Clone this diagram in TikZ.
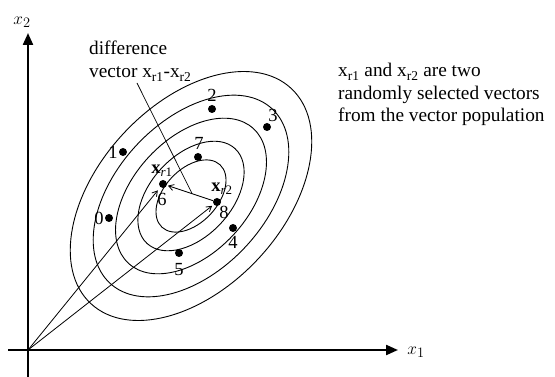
\documentclass[tikz,border=0pt]{standalone}
\usepackage{fontspec}
\setmainfont{Liberation Serif}
\usetikzlibrary{arrows.meta,calc}
\begin{document}
\begin{tikzpicture}[x=1pt,y=-1pt,
  axis/.style={line width=2.2pt,-{Triangle[length=12pt,width=10pt]}},
  contour/.style={line width=0.9pt},
  vec/.style={line width=0.8pt,-{Straight Barb[length=5pt,width=6pt]}},
  dot/.style={circle,fill=black,inner sep=0pt,minimum size=8pt},
  num/.style={inner sep=0pt,font=\fontsize{18.5}{20}\selectfont},
  txt/.style={inner sep=0pt,anchor=base west,font=\fontsize{19.3}{23}\selectfont},
  axlabel/.style={inner sep=0pt,font=\fontsize{19}{20}\selectfont},
  lead/.style={line width=0.7pt}]
\useasboundingbox[fill=white] (0,0) rectangle (555,377);

% contour ellipses
\coordinate (c) at (191,196);
\foreach \k in {0.29,0.44,0.625,0.81,1}
  \draw[contour, rotate around={47:(c)}] (c) ellipse [x radius={147pt*\k}, y radius={92pt*\k}];

% axes
\coordinate (o) at (28,350);
\coordinate (ybot) at (28,377);
\coordinate (ytop) at (28,33);
\coordinate (xleft) at (8,350);
\coordinate (xright) at (398,350);
\draw[axis] (ybot) -- (ytop);
\draw[axis] (xleft) -- (xright);
\node[axlabel] (lx2) at (22,22) {$x_2$};
\node[axlabel] (lx1) at (416,352) {$x_1$};

% population points
\node[dot] (p0) at (109,218) {};
\node[dot] (p1) at (123,152) {};
\node[dot] (p2) at (212,109) {};
\node[dot] (p3) at (267,127) {};
\node[dot] (p4) at (233,228) {};
\node[dot] (p5) at (179,253) {};
\node[dot] (xr1) at (163,184) {};
\node[dot] (p7) at (198,157) {};
\node[dot] (xr2) at (217,202) {};

\node[num] (l0) at (99,218) {0};
\node[num] (l1) at (113,152) {1};
\node[num] (l2) at (212,95) {2};
\node[num] (l3) at (273,115) {3};
\node[num] (l4) at (233,242) {4};
\node[num] (l5) at (179,270) {5};
\node[num] (l6) at (162,199) {6};
\node[num] (l7) at (199,143) {7};
\node[num] (l8) at (224,212) {8};
\node[num] (lxr1) at (162,171) {\textbf{x}\textsubscript{\textit{r}1}};
\node[num] (lxr2) at (222,189) {\textbf{x}\textsubscript{\textit{r}2}};

% vectors
\draw[vec, shorten >=4pt] (o) -- (xr1);
\draw[vec, shorten >=2pt] (o) -- (xr2);
\draw[vec, shorten >=1pt] (xr2) -- (xr1);

% annotation texts
\node[txt] (d1) at (89,55) {difference};
\node[txt] (d2) at (89,78) {vector x\textsubscript{r1}-x\textsubscript{r2}};
\coordinate (lt) at (137,83);
\coordinate (lb) at ($(xr2.center)!0.46!(xr1.center)$);
\draw[lead] (lt) -- (lb);

\node[txt] (r1) at (338,77) {x\textsubscript{r1} and x\textsubscript{r2} are two};
\node[txt] (r2) at (338,100) {randomly selected vectors};
\node[txt] (r3) at (338,122) {from the vector population};
\end{tikzpicture}
\end{document}
